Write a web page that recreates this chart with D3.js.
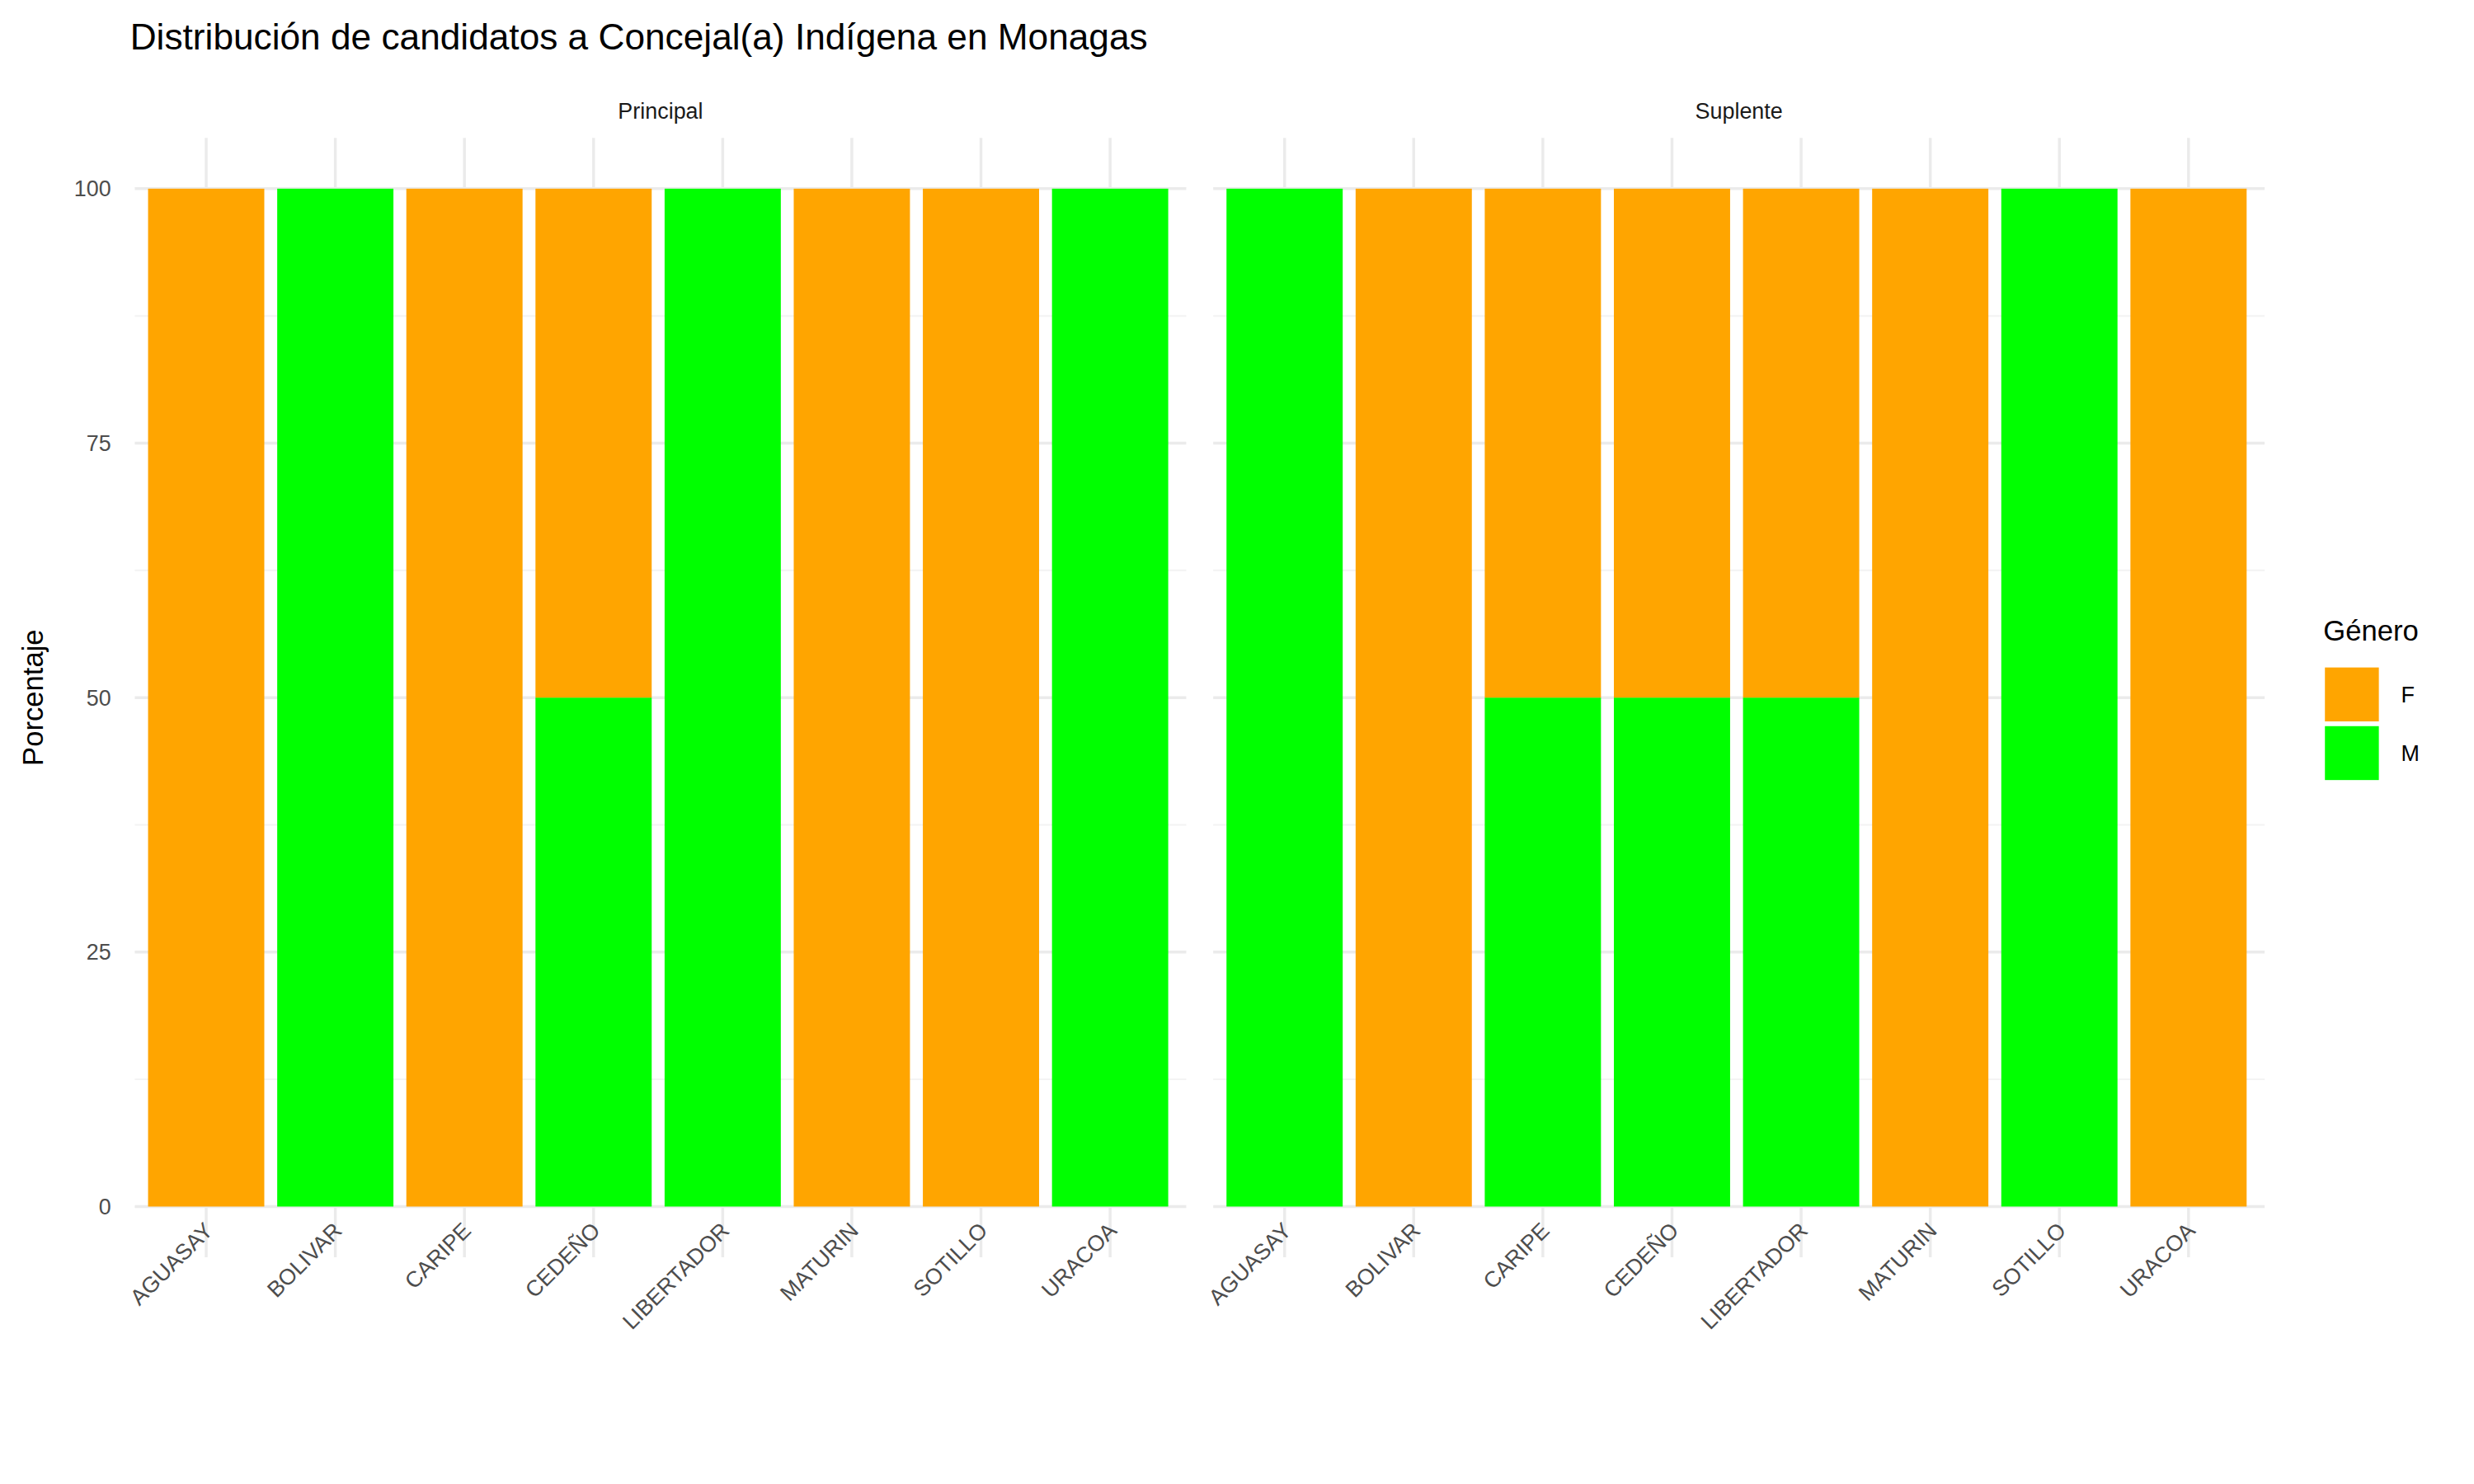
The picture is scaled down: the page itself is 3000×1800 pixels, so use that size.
<!DOCTYPE html>
<html><head><meta charset="utf-8">
<script src="https://cdn.jsdelivr.net/npm/d3@7"></script>
<style>body{margin:0;background:#fff}text{font-family:Arial,"Liberation Sans",sans-serif}</style>
</head><body>
<svg id="c" width="3000" height="1800" viewBox="0 0 1560 936"></svg>
<script>
const categories = ["AGUASAY","BOLIVAR","CARIPE","CEDEÑO","LIBERTADOR","MATURIN","SOTILLO","URACOA"];
const panels = ["Principal","Suplente"];
const principalM = [0,100,0,50,100,0,0,100];
const suplenteM = [100,0,50,50,50,0,100,0];
const yTicks = [0,25,50,75,100];
const genders = ["F","M"];
const colors = {F:"#FFA500", M:"#00FF00"};

const svg = d3.select("#c");
svg.append("rect").attr("width",1560).attr("height",936).attr("fill","#fff");
svg.append("text").attr("x",82).attr("y",31).attr("font-size",23).attr("fill","#000")
  .text("Distribución de candidatos a Concejal(a) Indígena en Monagas");

const y = d3.scaleLinear().domain([0,100]).range([761,119]);
const panelX = [[85,748],[765,1428]];
const offsets = [0,680];
const values = [principalM, suplenteM];

panels.forEach((p,pi)=>{
  const g = svg.append("g");
  const [x0,x1] = panelX[pi];
  const x = d3.scaleBand().domain(categories).range([89.3+offsets[pi],740.7+offsets[pi]]).paddingInner(0.1).paddingOuter(0.05);
  // minor grid
  d3.range(12.5,100,25).forEach(v=>g.append("line").attr("x1",x0).attr("x2",x1).attr("y1",y(v)).attr("y2",y(v)).attr("stroke","#f3f3f3").attr("stroke-width",1));
  yTicks.forEach(v=>g.append("line").attr("x1",x0).attr("x2",x1).attr("y1",y(v)).attr("y2",y(v)).attr("stroke","#ebebeb").attr("stroke-width",1.8));
  categories.forEach(c=>g.append("line").attr("x1",x(c)+x.bandwidth()/2).attr("x2",x(c)+x.bandwidth()/2).attr("y1",87).attr("y2",793).attr("stroke","#ebebeb").attr("stroke-width",1.8));
  // bars
  categories.forEach((c,i)=>{
    const m = values[pi][i], f = 100-m;
    if(m>0) g.append("rect").attr("x",x(c)).attr("width",x.bandwidth()).attr("y",y(m)).attr("height",y(0)-y(m)).attr("fill",colors.M);
    if(f>0) g.append("rect").attr("x",x(c)).attr("width",x.bandwidth()).attr("y",y(100)).attr("height",y(m)-y(100)).attr("fill",colors.F);
    g.append("text").attr("transform",`translate(${x(c)+x.bandwidth()/2+5},${777}) rotate(-45)`)
      .attr("text-anchor","end").attr("font-size",14).attr("fill","#4d4d4d").text(c);
  });
  g.append("text").attr("x",(x0+x1)/2).attr("y",75).attr("text-anchor","middle").attr("font-size",14).attr("fill","#1a1a1a").text(p);
});
yTicks.forEach(v=>svg.append("text").attr("x",70).attr("y",y(v)+5).attr("text-anchor","end").attr("font-size",14).attr("fill","#4d4d4d").text(v));
svg.append("text").attr("transform","translate(27,440) rotate(-90)").attr("text-anchor","middle").attr("font-size",18).attr("fill","#000").text("Porcentaje");
// legend
svg.append("text").attr("x",1465).attr("y",404).attr("font-size",18).attr("fill","#000").text("Género");
genders.forEach((k,i)=>{
  svg.append("rect").attr("x",1466).attr("y",421+i*37).attr("width",34).attr("height",34).attr("fill",colors[k]);
  svg.append("text").attr("x",1514).attr("y",443+i*37).attr("font-size",14).attr("fill","#000").text(k);
});
</script></body></html>
